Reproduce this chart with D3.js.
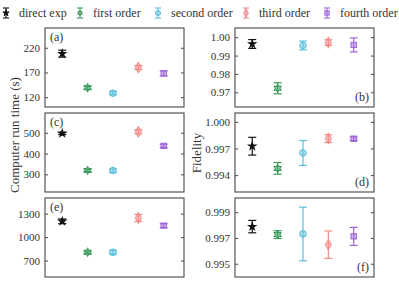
<!DOCTYPE html>
<html>
<head>
<meta charset="utf-8">
<script src="https://cdn.jsdelivr.net/npm/d3@7"></script>
<style>
body { margin: 0; background: #fff; }
svg text { font-family: "Liberation Serif", "DejaVu Serif", serif !important; fill: #333; }
</style>
</head>
<body>
<div id="chart"></div>
<script>
var w = 399, h = 285;

var methods = ["direct exp", "first order", "second order", "third order", "fourth order"];
var colors = ["#111111", "#3a9a5c", "#5bbfdc", "#f58a8a", "#a064d8"];

// run time panels (a), (c), (e)
var timeA = [208, 139, 128, 180, 168];
var timeAErr = [7, 3, 3, 4, 5];
var timeC = [497, 319, 318, 505, 437];
var timeCErr = [6, 6, 8, 10, 8];
var timeE = [1202, 806, 806, 1245, 1147];
var timeEErr = [30, 15, 25, 45, 25];

// fidelity panels (b), (d), (f)
var fidB = [0.9963, 0.9722, 0.9955, 0.9971, 0.9958];
var fidBErr = [0.0024, 0.0030, 0.0024, 0.0015, 0.0038];
var fidD = [0.99726, 0.99476, 0.9965, 0.99812, 0.9981];
var fidDErr = [0.0010, 0.00066, 0.0014, 0.00043, 0.0002];
var fidF = [0.99788, 0.99726, 0.99731, 0.99648, 0.99712];
var fidFErr = [0.00048, 0.0003, 0.00208, 0.00106, 0.0007];

var ticksA = [120, 170, 220];
var ticksB = [0.97, 0.98, 0.99, 1.00];
var ticksC = [300, 400, 500];
var ticksD = [0.994, 0.997, 1.000];
var ticksE = [700, 1000, 1300];
var ticksF = [0.995, 0.997, 0.999];

var panels = [
  {label: "(a)", col: 0, row: 0, vals: timeA, errs: timeAErr, dom: [100, 260], ticks: ticksA, fmt: "d", lab: "tl"},
  {label: "(b)", col: 1, row: 0, vals: fidB, errs: fidBErr, dom: [0.962, 1.005], ticks: ticksB, fmt: ".2f", lab: "br"},
  {label: "(c)", col: 0, row: 1, vals: timeC, errs: timeCErr, dom: [215, 595], ticks: ticksC, fmt: "d", lab: "tl"},
  {label: "(d)", col: 1, row: 1, vals: fidD, errs: fidDErr, dom: [0.9921, 1.001], ticks: ticksD, fmt: ".3f", lab: "br"},
  {label: "(e)", col: 0, row: 2, vals: timeE, errs: timeEErr, dom: [490, 1500], ticks: ticksE, fmt: "d", lab: "tl"},
  {label: "(f)", col: 1, row: 2, vals: fidF, errs: fidFErr, dom: [0.99397, 1.0001], ticks: ticksF, fmt: ".3f", lab: "br"}
];

var colX = [45, 235], pw = 139;
var rowY = [28, 113, 198], ph = 79;

var symbols = [d3.symbolStar, null, d3.symbolCircle, d3.symbolDiamond, d3.symbolSquare];

function hexagram(size) {
  var r = size, pts = [];
  for (var i = 0; i < 12; i++) {
    var a = Math.PI / 6 * i - Math.PI / 2;
    var rr = i % 2 == 0 ? r : r * 0.58;
    pts.push([rr * Math.cos(a), rr * Math.sin(a)]);
  }
  return "M" + pts.join("L") + "Z";
}

function markerPath(i, s) {
  if (i == 1) return hexagram(s * 0.13);
  return d3.symbol().type(symbols[i]).size(s)();
}
var markerSizes = [16, 30, 32, 30, 28];

var svg = d3.select("#chart").append("svg")
  .attr("width", w)
  .attr("height", h)
  .style("font-family", "'Liberation Serif', serif");

var x = d3.scaleLinear().domain([0.32, 5.8]).range([0, pw]);

panels.forEach(function(p) {
  var g = svg.append("g")
    .attr("transform", "translate(" + colX[p.col] + "," + rowY[p.row] + ")");
  var y = d3.scaleLinear().domain(p.dom).range([ph, 0]);

  g.append("g")
    .call(d3.axisLeft(y).tickValues(p.ticks).tickSize(-3).tickPadding(5).tickFormat(d3.format(p.fmt)))
    .call(function(a) {
      a.attr("font-family", null);
      a.select(".domain").remove();
      a.selectAll("line").attr("stroke", "#444");
      a.selectAll("text").style("font-size", "11px").attr("fill", "#333");
    });
  g.append("g")
    .attr("transform", "translate(" + pw + ",0)")
    .call(d3.axisRight(y).tickValues(p.ticks).tickSize(-3).tickFormat(""))
    .call(function(a) {
      a.select(".domain").remove();
      a.selectAll("line").attr("stroke", "#444");
    });

  g.append("rect")
    .attr("width", pw).attr("height", ph)
    .attr("fill", "none").attr("stroke", "#555").attr("stroke-width", 1.2);

  var pts = g.selectAll(".pt").data(p.vals).enter().append("g")
    .attr("transform", function(d, i) { return "translate(" + x(i + 1) + ",0)"; });

  pts.append("line")
    .attr("y1", function(d, i) { return y(d - p.errs[i]); })
    .attr("y2", function(d, i) { return y(d + p.errs[i]); })
    .attr("stroke", function(d, i) { return colors[i]; })
    .attr("stroke-width", 1.2);
  [-1, 1].forEach(function(sg) {
    pts.append("line")
      .attr("x1", -4).attr("x2", 4)
      .attr("y1", function(d, i) { return y(d + sg * p.errs[i]); })
      .attr("y2", function(d, i) { return y(d + sg * p.errs[i]); })
      .attr("stroke", function(d, i) { return colors[i]; })
      .attr("stroke-width", 1.2);
  });
  pts.append("path")
    .attr("transform", function(d) { return "translate(0," + y(d) + ")"; })
    .attr("d", function(d, i) { return markerPath(i, markerSizes[i]); })
    .attr("fill", function(d, i) { return i == 0 ? "#111" : colors[i]; })
    .attr("fill-opacity", function(d, i) { return i == 0 ? 1 : 0.45; })
    .attr("stroke", function(d, i) { return colors[i]; })
    .attr("stroke-width", 1.1);

  var lt = g.append("text").text(p.label).style("font-size", "12px");
  if (p.lab == "tl") lt.attr("x", 5).attr("y", 13);
  else lt.attr("x", pw - 5).attr("y", ph - 6).attr("text-anchor", "end");
});

// legend
var legX = [6, 80, 158, 246, 327];
var leg = svg.selectAll(".leg").data(methods).enter().append("g")
  .attr("transform", function(d, i) { return "translate(" + legX[i] + ",13)"; });
leg.append("line").attr("y1", -5).attr("y2", 5)
  .attr("stroke", function(d, i) { return colors[i]; }).attr("stroke-width", 1.1);
[-5, 5].forEach(function(yy) {
  leg.append("line").attr("x1", -3).attr("x2", 3).attr("y1", yy).attr("y2", yy)
    .attr("stroke", function(d, i) { return colors[i]; }).attr("stroke-width", 1.1);
});
leg.append("path")
  .attr("d", function(d, i) { return markerPath(i, i == 0 ? 12 : 20); })
  .attr("fill", function(d, i) { return i == 0 ? "#111" : colors[i]; })
  .attr("fill-opacity", function(d, i) { return i == 0 ? 1 : 0.45; })
  .attr("stroke", function(d, i) { return colors[i]; });
leg.append("text")
  .attr("x", 13).attr("y", 4)
  .style("font-size", "12px")
  .text(function(d) { return d; });

svg.append("text")
  .attr("transform", "translate(19,135) rotate(-90)")
  .attr("text-anchor", "middle")
  .style("font-size", "13px")
  .text("Computer run time (s)");
svg.append("text")
  .attr("transform", "translate(201,153) rotate(-90)")
  .attr("text-anchor", "middle")
  .style("font-size", "13px")
  .text("Fidelity");
</script>
</body>
</html>
